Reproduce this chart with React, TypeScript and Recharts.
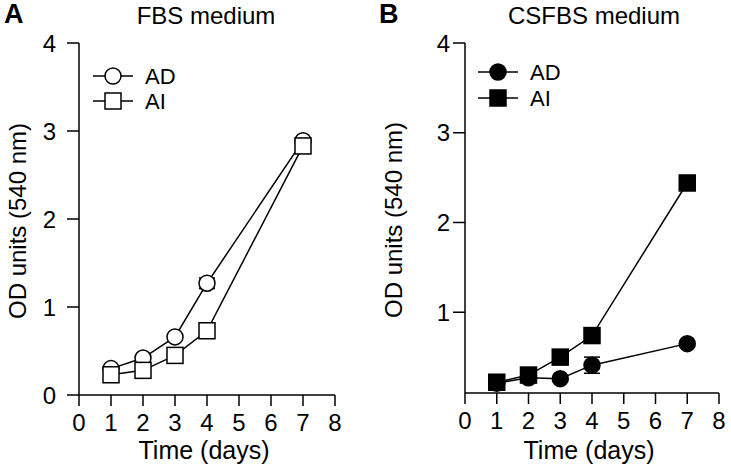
import React from 'react';
import { LineChart, Line, XAxis, YAxis, ErrorBar, Legend } from 'recharts';

const DAYS = [1, 2, 3, 4, 7];
const FBS_AD = [0.3, 0.42, 0.66, 1.27, 2.89];
const FBS_AI = [0.23, 0.28, 0.45, 0.73, 2.83];
const FBS_AD_ERR = [0.02, 0.03, 0.03, 0.06, 0.03];
const FBS_AI_ERR = [0.02, 0.02, 0.02, 0.03, 0.04];
const CSFBS_AD = [0.21, 0.27, 0.26, 0.41, 0.65];
const CSFBS_AI = [0.22, 0.3, 0.5, 0.74, 2.44];
const CSFBS_AD_ERR = [0.02, 0.02, 0.02, 0.09, 0.03];
const CSFBS_AI_ERR = [0.02, 0.02, 0.03, 0.03, 0.06];
const X_TICKS = [0, 1, 2, 3, 4, 5, 6, 7, 8];
const FBS_Y_TICKS = [0, 1, 2, 3, 4];
const CSFBS_Y_TICKS = [1, 2, 3, 4];

const FONT = '"Liberation Sans", Arial, Helvetica, sans-serif';
const INK = '#000';

const buildRows = (ad: number[], ai: number[], adErr: number[], aiErr: number[]) =>
  DAYS.map((d, i) => ({ day: d, ad: ad[i], ai: ai[i], adErr: adErr[i], aiErr: aiErr[i] }));

type PanelProps = {
  letter: string;
  title: string;
  titleX: number;
  rows: any[];
  yDomain: [number, number];
  yTicks: number[];
  yAxisWidth: number;
  yTickMargin: number;
  yLabelX: number;
  marginRight: number;
  marginBottom: number;
  filled: boolean;
  legendLeft: number;
  legendTop: number;
  legendGap: number;
};

const Panel: React.FC<PanelProps> = (p) => {
  const fill = p.filled ? INK : '#fff';

  const circleDot = (props: any) => (
    <circle key={`c-${props.index}`} cx={props.cx} cy={props.cy} r={8} fill={fill} stroke={INK} strokeWidth={1.5} />
  );
  const squareDot = (props: any) => (
    <rect key={`s-${props.index}`} x={props.cx - 8} y={props.cy - 8} width={16} height={16} fill={fill} stroke={INK} strokeWidth={1.5} />
  );

  const legendContent = () => (
    <svg width={110} height={60} style={{ display: 'block' }}>
      <g>
        <line x1={0} y1={12} x2={40} y2={12} stroke={INK} strokeWidth={1.5} />
        <circle cx={20} cy={12} r={8} fill={fill} stroke={INK} strokeWidth={1.5} />
        <text x={52} y={12} dominantBaseline="central" fontSize={22} fontFamily={FONT} fill={INK}>AD</text>
      </g>
      <g>
        <line x1={0} y1={12 + p.legendGap} x2={40} y2={12 + p.legendGap} stroke={INK} strokeWidth={1.5} />
        <rect x={12} y={4 + p.legendGap} width={16} height={16} fill={fill} stroke={INK} strokeWidth={1.5} />
        <text x={52} y={12 + p.legendGap} dominantBaseline="central" fontSize={22} fontFamily={FONT} fill={INK}>AI</text>
      </g>
    </svg>
  );

  return (
    <div style={{ position: 'relative', width: 365, height: 468 }}>
      <LineChart
        width={365}
        height={468}
        data={p.rows}
        margin={{ top: 43, right: p.marginRight, bottom: p.marginBottom, left: 0 }}
      >
        <XAxis
          dataKey="day"
          type="number"
          domain={[0, 8]}
          ticks={X_TICKS}
          allowDataOverflow
          height={30}
          tickSize={11}
          tickMargin={8}
          stroke={INK}
          strokeWidth={1.5}
          tick={{ fill: INK, fontSize: 24, fontFamily: FONT }}
          label={{
            content: (lp: any) => {
              const vb = lp.viewBox;
              return (
                <text x={vb.x + vb.width / 2 - 3} y={459} textAnchor="middle" fontSize={25} fontFamily={FONT} fill={INK}>
                  Time (days)
                </text>
              );
            },
          }}
        />
        <XAxis xAxisId="top" orientation="top" type="number" domain={[0, 8]} height={0} tick={false} tickLine={false} stroke={INK} strokeWidth={1.5} />
        <YAxis
          type="number"
          domain={p.yDomain}
          ticks={p.yTicks}
          allowDataOverflow
          width={p.yAxisWidth}
          tickSize={12}
          tickMargin={p.yTickMargin}
          stroke={INK}
          strokeWidth={1.5}
          tick={{ fill: INK, fontSize: 24, fontFamily: FONT }}
          label={{
            content: (lp: any) => {
              const vb = lp.viewBox;
              const cx = vb.x + p.yLabelX;
              const cy = vb.y + vb.height / 2 + 2;
              return (
                <text
                  x={cx}
                  y={cy}
                  transform={`rotate(-90, ${cx}, ${cy})`}
                  textAnchor="middle"
                  dominantBaseline="central"
                  fontSize={24}
                  fontFamily={FONT}
                  fill={INK}
                >
                  OD units (540 nm)
                </text>
              );
            },
          }}
        />
        <YAxis yAxisId="right" orientation="right" type="number" domain={p.yDomain} width={0} tick={false} tickLine={false} stroke={INK} strokeWidth={1.5} />
        <Legend
          layout="vertical"
          align="center"
          verticalAlign="middle"
          content={legendContent}
          wrapperStyle={{ position: 'absolute', left: p.legendLeft, top: p.legendTop, width: 110, height: 60 }}
        />
        <Line
          dataKey="ad"
          type="linear"
          stroke={INK}
          strokeWidth={1.5}
          dot={circleDot}
          activeDot={false}
          isAnimationActive={false}
        >
          <ErrorBar dataKey="adErr" direction="y" width={8} stroke={INK} strokeWidth={1.5} />
        </Line>
        <Line
          dataKey="ai"
          type="linear"
          stroke={INK}
          strokeWidth={1.5}
          dot={squareDot}
          activeDot={false}
          isAnimationActive={false}
        >
          <ErrorBar dataKey="aiErr" direction="y" width={8} stroke={INK} strokeWidth={1.5} />
        </Line>
      </LineChart>
      <svg width={365} height={40} style={{ position: 'absolute', left: 0, top: 0, pointerEvents: 'none' }}>
        <text x={p.letter === 'A' ? 4 : 13} y={23} fontSize={27} fontWeight="bold" fontFamily={FONT} fill={INK}>
          {p.letter}
        </text>
        <text x={p.titleX} y={24} textAnchor="middle" fontSize={24} fontFamily={FONT} fill={INK}>
          {p.title}
        </text>
      </svg>
    </div>
  );
};

export default function App() {
  const fbsRows = buildRows(FBS_AD, FBS_AI, FBS_AD_ERR, FBS_AI_ERR);
  const csfbsRows = buildRows(CSFBS_AD, CSFBS_AI, CSFBS_AD_ERR, CSFBS_AI_ERR);

  return (
    <div style={{ position: 'absolute', left: 0, top: 0, width: 731, height: 468, background: '#fff' }}>
      <div style={{ position: 'absolute', left: 0, top: 0 }}>
        <Panel
          letter="A"
          title="FBS medium"
          titleX={206}
          rows={fbsRows}
          yDomain={[0, 4]}
          yTicks={FBS_Y_TICKS}
          yAxisWidth={79}
          yTickMargin={11}
          yLabelX={17}
          marginRight={30}
          marginBottom={43}
          filled={false}
          legendLeft={93}
          legendTop={64}
          legendGap={25}
        />
      </div>
      <div style={{ position: 'absolute', left: 366, top: 0 }}>
        <Panel
          letter="B"
          title="CSFBS medium"
          titleX={228}
          rows={csfbsRows}
          yDomain={[0.1, 4]}
          yTicks={CSFBS_Y_TICKS}
          yAxisWidth={99}
          yTickMargin={3}
          yLabelX={27}
          marginRight={12}
          marginBottom={45}
          filled={true}
          legendLeft={112}
          legendTop={60}
          legendGap={26}
        />
      </div>
    </div>
  );
}
